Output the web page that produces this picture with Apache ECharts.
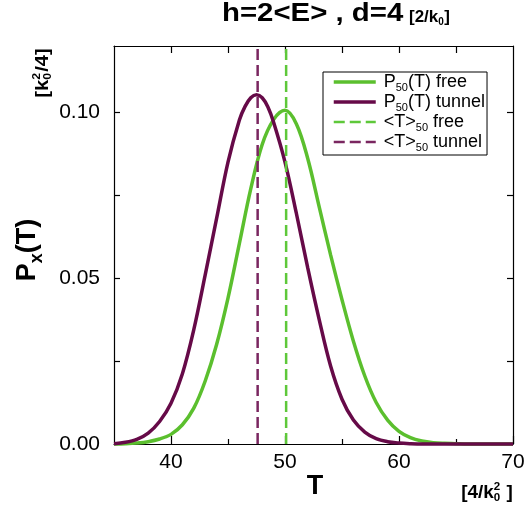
<!DOCTYPE html>
<html>
<head>
<meta charset="utf-8">
<script src="https://cdn.jsdelivr.net/npm/echarts@6/dist/echarts.min.js"></script>
<style>
html,body{margin:0;padding:0;background:#fff;}
#chart{width:529px;height:508px;}
</style>
</head>
<body>
<div id="chart"></div>
<script>
// ---- data ----
var tFree = [35,36,37,38,39,40,41,42,43,44,45,46,47,48,49,50,51,52,53,54,55,56,57,58,59,60,61,62,63,64,65,66,67,68,69,70];
var pFree = [0,0.0001,0.0003,0.0007,0.0015,0.0029,0.0058,0.0108,0.0190,0.0300,0.0440,0.0605,0.0770,0.0903,0.0978,0.1006,0.0965,0.0860,0.0715,0.0570,0.0435,0.0310,0.0205,0.0125,0.0072,0.0038,0.0019,0.0009,0.0004,0.0002,0.0001,0,0,0,0,0];
var tTunnel = [35,36,37,38,39,40,41,42,43,44,45,46,46.5,47,47.5,48,48.5,49,50,51,52,53,54,55,56,57,58,59,60,61,62,63,64,65,66,67,68,69,70];
var pTunnel = [0.0001,0.0005,0.0014,0.0033,0.0068,0.0123,0.0212,0.0345,0.0510,0.0680,0.0850,0.0977,0.1018,0.1044,0.1053,0.1044,0.1016,0.0970,0.0850,0.0695,0.0530,0.0375,0.0235,0.0135,0.0072,0.0036,0.0016,0.0007,0.0003,0.0001,0,0,0,0,0,0,0,0,0];
var meanFree = 50.1;
var meanTunnel = 47.6;
var xRange = [35, 70];
var yRange = [0, 0.12];
var xLabelTicks = [40, 50, 60, 70];
var xMinorTicks = [45, 55, 65];
var xTopTicks = [40, 45, 50, 55, 60, 65];
var yLabelTicks = [0, 0.05, 0.10];
var yTicks = [0.025, 0.05, 0.075, 0.10];
var seriesNames = ['P50(T) free', 'P50(T) tunnel', '<T>50 free', '<T>50 tunnel'];

// ---- chart ----
var FONT = '"Liberation Sans", Arial, Helvetica, sans-serif';
var GREEN = '#5bbf2e', PURPLE = '#660a48', GREEN_D = '#5ec83a', PURPLE_D = '#7a2660';
var CURVE_W = 3.5, DASH_W = 2.5;
var chart = echarts.init(document.getElementById('chart'), null, {renderer: 'canvas'});

function pairs(xs, ys) { return xs.map(function (x, i) { return [x, ys[i]]; }); }

var mctx = document.createElement('canvas').getContext('2d');
function tw(text, size) { mctx.font = 'bold ' + size + 'px ' + FONT; return mctx.measureText(text).width; }

// unit label like "[k0^2/4]" with stacked super/subscript, centred on (x,y)
function unitLabel(pre, post, x, y, rot, size, small, sx) {
  var w1 = tw(pre, size), ws = tw('2', small), w2 = tw(post, size);
  var total = w1 + ws + 1 + w2;
  var x0 = -total / 2;
  function t(txt, lx, ly, fs) {
    return {type: 'text', x: lx, y: ly, style: {text: txt, fill: '#000', fontSize: fs, fontWeight: 'bold',
      fontFamily: FONT, align: 'left', verticalAlign: 'middle'}};
  }
  return {type: 'group', x: x, y: y, rotation: rot, scaleX: sx, scaleY: 1, children: [
    t(pre, x0, 0, size),
    t('2', x0 + w1, -size * 0.32, small),
    t('0', x0 + w1, size * 0.3, small),
    t(post, x0 + w1 + ws + 1, 0, size)
  ]};
}

var axisLine = {show: true, lineStyle: {color: '#000', width: 1.2}};
var tickStyle = {color: '#000', width: 1.2};

var option = {
  animation: false,
  backgroundColor: '#fff',
  grid: {left: 114, top: 46, width: 399, height: 398, containLabel: false},
  xAxis: [
    {type: 'value', position: 'bottom', min: xRange[0], max: xRange[1], interval: 5,
     axisLine: axisLine, splitLine: {show: false},
     axisTick: {show: true, inside: true, length: 8, customValues: xLabelTicks, lineStyle: tickStyle},
     axisLabel: {show: true, customValues: xLabelTicks, margin: 8, color: '#000', fontSize: 21, fontFamily: FONT}},
    {type: 'value', position: 'bottom', min: xRange[0], max: xRange[1], interval: 5,
     axisLine: {show: false}, splitLine: {show: false},
     axisTick: {show: true, inside: true, length: 5, customValues: xMinorTicks, lineStyle: tickStyle},
     axisLabel: {show: false}},
    {type: 'value', position: 'top', min: xRange[0], max: xRange[1], interval: 5,
     axisLine: axisLine, splitLine: {show: false},
     axisTick: {show: true, inside: true, length: 7, customValues: xTopTicks, lineStyle: tickStyle},
     axisLabel: {show: false}}
  ],
  yAxis: [
    {type: 'value', position: 'left', min: yRange[0], max: yRange[1],
     axisLine: axisLine, splitLine: {show: false},
     axisTick: {show: true, inside: true, length: 6, customValues: yTicks, lineStyle: tickStyle},
     axisLabel: {show: true, customValues: yLabelTicks, margin: 14, color: '#000', fontSize: 21, fontFamily: FONT,
                 formatter: function (v) { return v.toFixed(2); }}},
    {type: 'value', position: 'right', min: yRange[0], max: yRange[1],
     axisLine: axisLine, splitLine: {show: false},
     axisTick: {show: true, inside: true, length: 6, customValues: yTicks, lineStyle: tickStyle},
     axisLabel: {show: false}}
  ],
  legend: {
    orient: 'vertical', left: 323, top: 72,
    data: [
      {name: seriesNames[0], lineStyle: {width: CURVE_W}},
      {name: seriesNames[1], lineStyle: {width: CURVE_W}},
      {name: seriesNames[2], lineStyle: {width: DASH_W}},
      {name: seriesNames[3], lineStyle: {width: DASH_W}}
    ],
    itemWidth: 42, itemHeight: 14, itemGap: 0,
    padding: [1, 2, 2, 9],
    borderColor: '#000', borderWidth: 1, backgroundColor: '#fff',
    itemStyle: {opacity: 0},
    formatter: function (name) {
      var i = name.indexOf('50');
      return '{m|' + name.slice(0, i) + '}{s|50}{m|' + name.slice(i + 2) + '}';
    },
    textStyle: {
      color: '#000', fontFamily: FONT, fontSize: 18, padding: [0, 0, 0, 3],
      rich: {
        m: {fontSize: 18, lineHeight: 18, verticalAlign: 'top', fontFamily: FONT, color: '#000'},
        s: {fontSize: 11, lineHeight: 11, padding: [9, 0, 0, 0], verticalAlign: 'top', fontFamily: FONT, color: '#000'}
      }
    }
  },
  series: [
    {name: seriesNames[0], type: 'line', data: pairs(tFree, pFree), smooth: 0.35, showSymbol: false, symbol: 'none',
     clip: false, lineStyle: {color: GREEN, width: CURVE_W}, itemStyle: {color: GREEN}, z: 3},
    {name: seriesNames[1], type: 'line', data: pairs(tTunnel, pTunnel), smooth: 0.35, showSymbol: false, symbol: 'none',
     clip: false, lineStyle: {color: PURPLE, width: CURVE_W}, itemStyle: {color: PURPLE}, z: 4},
    {name: seriesNames[2], type: 'line', data: [[meanFree, yRange[0]], [meanFree, yRange[1]]], showSymbol: false, symbol: 'none',
     lineStyle: {color: GREEN_D, width: DASH_W, type: [11, 5]}, itemStyle: {color: GREEN_D}, z: 5},
    {name: seriesNames[3], type: 'line', data: [[meanTunnel, yRange[0]], [meanTunnel, yRange[1]]], showSymbol: false, symbol: 'none',
     lineStyle: {color: PURPLE_D, width: DASH_W, type: [11, 5]}, itemStyle: {color: PURPLE_D}, z: 5}
  ],
  graphic: [
    {type: 'text', x: 222, y: 14, scaleX: 1.13, style: {
      text: 'h=2<E> , d=4', fill: '#000', fontSize: 26, fontWeight: 'bold', fontFamily: FONT,
      align: 'left', verticalAlign: 'middle'}},
    {type: 'group', x: 409, y: 17, children: [
      {type: 'text', x: 0, y: 0, style: {text: '[2/k', fill: '#000', fontSize: 17, fontWeight: 'bold', fontFamily: FONT, align: 'left', verticalAlign: 'middle'}},
      {type: 'text', x: tw('[2/k', 17), y: 5, style: {text: '0', fill: '#000', fontSize: 10, fontWeight: 'bold', fontFamily: FONT, align: 'left', verticalAlign: 'middle'}},
      {type: 'text', x: tw('[2/k', 17) + tw('0', 10) + 0.5, y: 0, style: {text: ']', fill: '#000', fontSize: 17, fontWeight: 'bold', fontFamily: FONT, align: 'left', verticalAlign: 'middle'}}
    ]},
    {type: 'text', x: 28, y: 250, rotation: Math.PI / 2, style: {
      text: '{p|P}{x|x}{p|(T)}', align: 'center', verticalAlign: 'middle', fill: '#000',
      rich: {
        p: {fontSize: 27, fontWeight: 'bold', fontFamily: FONT, lineHeight: 28, verticalAlign: 'top'},
        x: {fontSize: 18, fontWeight: 'bold', fontFamily: FONT, lineHeight: 18, padding: [14, 0, 0, 0], verticalAlign: 'top'}
      }}},
    unitLabel('[k', '/4]', 43, 73, Math.PI / 2, 18, 11, 1.12),
    {type: 'text', x: 315, y: 487, style: {
      text: 'T', align: 'center', verticalAlign: 'middle', fill: '#000',
      fontSize: 27, fontWeight: 'bold', fontFamily: FONT}},
    unitLabel('[4/k', ' ]', 487, 493, 0, 18, 11, 1.05)
  ]
};
chart.setOption(option);
</script>
</body>
</html>
